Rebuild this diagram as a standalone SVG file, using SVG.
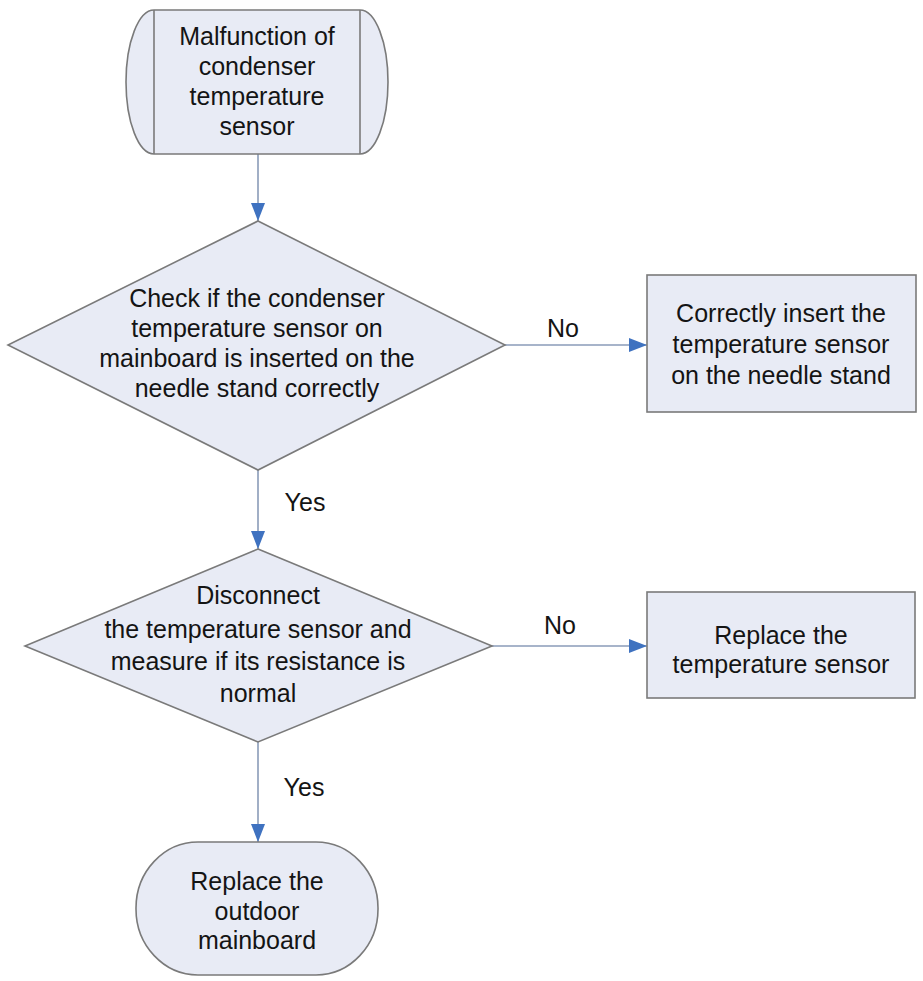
<svg xmlns="http://www.w3.org/2000/svg" width="923" height="981" viewBox="0 0 923 981">
<style>
.shape{fill:#e8ebf5;stroke:#7a7a7a;stroke-width:1.6}
.t{font-family:"Liberation Sans",Arial,sans-serif;font-size:25px;fill:#141414;text-anchor:middle}
.c{fill:none;stroke:#8a9bb8;stroke-width:1.6}
</style>
<defs>
<marker id="ah" viewBox="0 0 18 14" refX="18" refY="7" markerWidth="18" markerHeight="14" markerUnits="userSpaceOnUse" orient="auto">
<path d="M0,0 L18,7 L0,14 Z" fill="#3f72c0"/>
</marker>
</defs>
<rect width="923" height="981" fill="#ffffff"/>
<g id="connectors">
<line class="c" x1="258" y1="154" x2="258" y2="221" marker-end="url(#ah)"/>
<line class="c" x1="258" y1="470" x2="258" y2="549" marker-end="url(#ah)"/>
<line class="c" x1="258" y1="742" x2="258" y2="842" marker-end="url(#ah)"/>
<line class="c" x1="505" y1="345" x2="647" y2="345" marker-end="url(#ah)"/>
<line class="c" x1="492" y1="646" x2="647" y2="646" marker-end="url(#ah)"/>
<text class="t" x="305" y="511">Yes</text>
<text class="t" x="304" y="796">Yes</text>
<text class="t" x="563" y="337">No</text>
<text class="t" x="560" y="634">No</text>
</g>
<g id="start">
<path class="shape" d="M154,10 H360 A28,72 0 0 1 360,154 H154 A28,72 0 0 1 154,10 Z"/>
<line x1="154" y1="10" x2="154" y2="154" stroke="#7a7a7a" stroke-width="1.6"/>
<line x1="360" y1="10" x2="360" y2="154" stroke="#7a7a7a" stroke-width="1.6"/>
<text class="t" x="257" y="45">Malfunction of</text>
<text class="t" x="257" y="75">condenser</text>
<text class="t" x="257" y="105">temperature</text>
<text class="t" x="257" y="135">sensor</text>
</g>
<g id="check1">
<polygon class="shape" points="258,221 505,345 258,470 8,345"/>
<text class="t" x="257" y="307">Check if the condenser</text>
<text class="t" x="257" y="337">temperature sensor on</text>
<text class="t" x="257" y="367">mainboard is inserted on the</text>
<text class="t" x="257" y="397">needle stand correctly</text>
</g>
<g id="insert">
<rect class="shape" x="647" y="275" width="269" height="137"/>
<text class="t" x="781" y="322">Correctly insert the</text>
<text class="t" x="781" y="353">temperature sensor</text>
<text class="t" x="781" y="384">on the needle stand</text>
</g>
<g id="check2">
<polygon class="shape" points="258,549 492,646 258,742 25,646"/>
<text class="t" x="258" y="604">Disconnect</text>
<text class="t" x="258" y="638">the temperature sensor and</text>
<text class="t" x="258" y="670">measure if its resistance is</text>
<text class="t" x="258" y="702">normal</text>
</g>
<g id="replaceSensor">
<rect class="shape" x="647" y="592" width="268" height="106"/>
<text class="t" x="781" y="644">Replace the</text>
<text class="t" x="781" y="673">temperature sensor</text>
</g>
<g id="replaceBoard">
<rect class="shape" x="136" y="842" width="242" height="133" rx="62" ry="66"/>
<text class="t" x="257" y="890">Replace the</text>
<text class="t" x="257" y="920">outdoor</text>
<text class="t" x="257" y="949">mainboard</text>
</g>
</svg>
